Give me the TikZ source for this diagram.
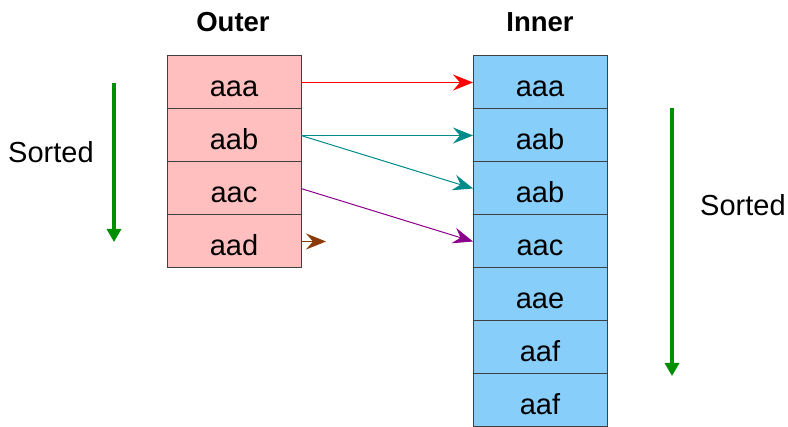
\documentclass[tikz,border=0pt]{standalone}
\usepackage{fontspec}
\setmainfont{Liberation Sans}
\usetikzlibrary{arrows.meta}
\definecolor{pinkc}{HTML}{FFBFBF}
\definecolor{bluec}{HTML}{87CEFA}
\definecolor{tealc}{HTML}{008B8B}
\definecolor{purplec}{HTML}{8B008B}
\definecolor{brownc}{HTML}{8B3A0A}
\definecolor{greenc}{HTML}{008F00}
\begin{document}
\begin{tikzpicture}[x=1pt,y=-1pt,
  cell/.style={draw=black!75,line width=1pt,minimum width=134pt,minimum height=53pt,inner sep=0pt,outer sep=0pt,text height=28pt,text depth=0pt,font=\fontsize{29}{34}\selectfont},
  ocell/.style={cell,fill=pinkc},
  icell/.style={cell,fill=bluec},
  link/.style={line width=1pt,-{Stealth[length=20pt,width=16pt,inset=7pt]}},
  sortarrow/.style={draw=greenc,line width=3.5pt,-{Triangle[length=13pt,width=14pt]}},
  lbl/.style={font=\fontsize{29}{34}\selectfont,inner sep=0pt,anchor=base west},
  title/.style={font=\fontsize{27.5}{32}\selectfont\bfseries,inner sep=0pt,anchor=base}]
\useasboundingbox (0,0) rectangle (788,427);
\clip (0,0) rectangle (788,427);
\node[title] (touter) at (233,32) {Outer};
\node[title] (tinner) at (540,32) {Inner};
\node[ocell] (o1) at (234,82.5) {aaa};
\node[ocell] (o2) at (234,135.5) {aab};
\node[ocell] (o3) at (234,188.5) {aac};
\node[ocell] (o4) at (234,241.5) {aad};
\node[icell] (i1) at (540,82.5) {aaa};
\node[icell] (i2) at (540,135.5) {aab};
\node[icell] (i3) at (540,188.5) {aab};
\node[icell] (i4) at (540,241.5) {aac};
\node[icell] (i5) at (540,294.5) {aae};
\node[icell] (i6) at (540,347.5) {aaf};
\node[icell] (i7) at (540,400.5) {aaf};
\draw[link,red] (o1.east) -- (i1.west);
\draw[link,tealc] (o2.east) -- (i2.west);
\draw[link,tealc] (o2.east) -- (i3.west);
\draw[link,purplec] (o3.east) -- (i4.west);
\coordinate (bend) at (326,241.5);
\draw[link,brownc] (o4.east) -- (bend);
\coordinate (ls) at (114,83);
\coordinate (le) at (114,242);
\draw[sortarrow] (ls) -- (le);
\coordinate (rs) at (672,108);
\coordinate (re) at (672,376);
\draw[sortarrow] (rs) -- (re);
\node[lbl] (lsorted) at (8,163) {Sorted};
\node[lbl] (rsorted) at (700,216) {Sorted};
\end{tikzpicture}
\end{document}
